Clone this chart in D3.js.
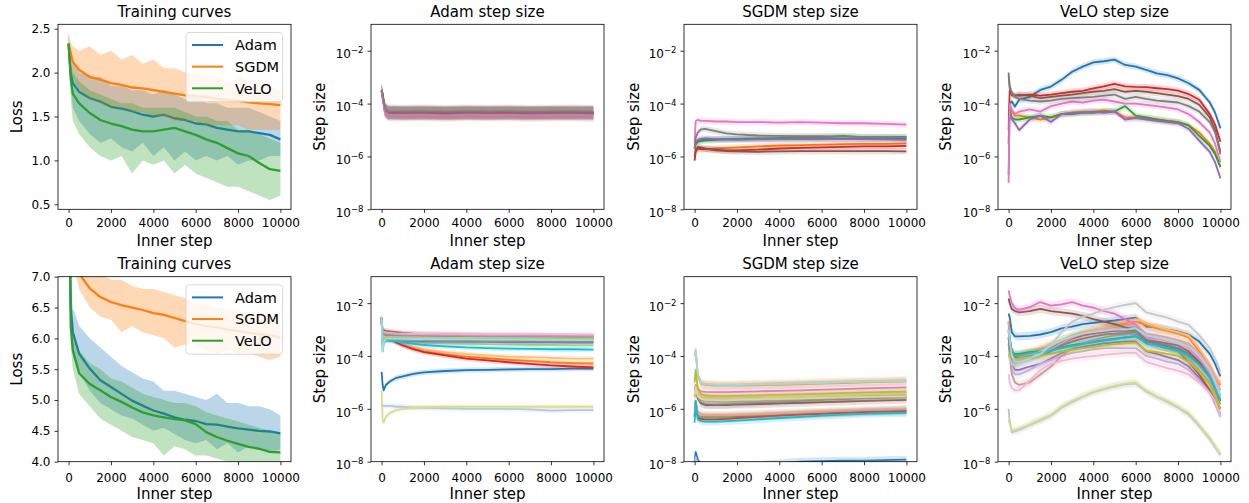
<!DOCTYPE html>
<html>
<head>
<meta charset="utf-8">
<script src="https://cdn.jsdelivr.net/npm/d3@7"></script>
<style>
  body { margin: 0; background: #fff; }
  text { font-family: "DejaVu Sans", sans-serif; fill: #000; }
</style>
</head>
<body>
<svg id="chart" width="1249" height="503"></svg>
<script>
// ---- data ----
const OPTIMIZERS = ["Adam", "SGDM", "VeLO"];
const X_TICKS = [0, 2000, 4000, 6000, 8000, 10000];
const LOSS1_TICKS = [0.5, 1.0, 1.5, 2.0, 2.5];
const LOSS2_TICKS = [4.0, 4.5, 5.0, 5.5, 6.0, 6.5, 7.0];
const LOG_TICKS = [1e-8, 1e-6, 1e-4, 1e-2];

const LOSS_STEPS = [0, 100, 200, 500, 1000, 1500, 2000, 2500, 3000, 3500, 4000, 4500, 5000, 5500, 6000, 6500, 7000, 7500, 8000, 8500, 9000, 9500, 10000];

// top row: training curves (smoothed line + raw noise envelope)
const LOSS1_ADAM    = [2.33, 1.99, 1.88, 1.78, 1.71, 1.67, 1.61, 1.59, 1.56, 1.52, 1.50, 1.52, 1.48, 1.46, 1.42, 1.41, 1.37, 1.35, 1.33, 1.33, 1.31, 1.29, 1.24];
const LOSS1_ADAM_LO = [2.25, 1.85, 1.6, 1.45, 1.3, 1.2, 1.25, 1.15, 1.1, 1.2, 1.05, 1.15, 1.0, 1.1, 1.0, 1.05, 1.0, 1.05, 0.95, 1.0, 1.0, 1.05, 1.05];
const LOSS1_ADAM_HI = [2.45, 2.15, 2.1, 2.0, 1.95, 1.95, 1.85, 1.85, 1.8, 1.8, 1.75, 1.8, 1.75, 1.7, 1.75, 1.65, 1.65, 1.6, 1.6, 1.6, 1.55, 1.5, 1.45];
const LOSS1_SGDM    = [2.33, 2.22, 2.12, 2.03, 1.95, 1.92, 1.88, 1.86, 1.83, 1.82, 1.80, 1.78, 1.76, 1.74, 1.73, 1.72, 1.70, 1.69, 1.68, 1.66, 1.65, 1.64, 1.63];
const LOSS1_SGDM_LO = [2.25, 2.05, 1.95, 1.8, 1.7, 1.65, 1.6, 1.6, 1.55, 1.55, 1.5, 1.5, 1.45, 1.45, 1.45, 1.4, 1.4, 1.4, 1.4, 1.35, 1.35, 1.35, 1.35];
const LOSS1_SGDM_HI = [2.45, 2.35, 2.3, 2.25, 2.3, 2.2, 2.25, 2.15, 2.2, 2.1, 2.15, 2.05, 2.05, 2.0, 2.0, 1.95, 1.95, 1.9, 1.95, 1.9, 1.85, 1.85, 1.8];
const LOSS1_VELO    = [2.33, 1.93, 1.76, 1.65, 1.54, 1.46, 1.42, 1.39, 1.35, 1.33, 1.33, 1.35, 1.37, 1.33, 1.29, 1.24, 1.20, 1.14, 1.08, 1.05, 0.97, 0.90, 0.88];
const LOSS1_VELO_LO = [2.25, 1.7, 1.45, 1.3, 1.15, 1.05, 1.0, 1.05, 0.85, 1.0, 0.95, 1.0, 0.85, 0.95, 0.85, 0.8, 0.75, 0.7, 0.7, 0.65, 0.6, 0.55, 0.6];
const LOSS1_VELO_HI = [2.45, 2.1, 2.0, 1.9, 1.8, 1.75, 1.7, 1.65, 1.65, 1.6, 1.6, 1.6, 1.6, 1.55, 1.5, 1.5, 1.45, 1.45, 1.35, 1.35, 1.3, 1.25, 1.2];

// bottom row: training curves
const LOSS2_ADAM    = [9.5, 6.5, 6.1, 5.75, 5.51, 5.32, 5.21, 5.10, 4.99, 4.91, 4.83, 4.78, 4.72, 4.68, 4.66, 4.61, 4.60, 4.57, 4.54, 4.52, 4.50, 4.49, 4.46];
const LOSS2_ADAM_LO = [9.0, 6.2, 5.7, 5.45, 5.15, 4.95, 4.85, 4.75, 4.7, 4.6, 4.5, 4.55, 4.45, 4.35, 4.3, 4.35, 4.2, 4.3, 4.15, 4.25, 4.2, 4.15, 4.2];
const LOSS2_ADAM_HI = [10, 6.9, 6.5, 6.2, 6.0, 5.85, 5.7, 5.55, 5.45, 5.35, 5.3, 5.15, 5.15, 5.1, 5.05, 5.0, 5.1, 4.95, 4.95, 4.9, 4.9, 4.85, 4.75];
const LOSS2_SGDM    = [9.5, 8.2, 7.6, 7.05, 6.81, 6.67, 6.59, 6.54, 6.50, 6.46, 6.41, 6.38, 6.33, 6.28, 6.23, 6.20, 6.18, 6.14, 6.12, 6.09, 6.07, 6.05, 6.01];
const LOSS2_SGDM_LO = [9.0, 7.8, 7.2, 6.8, 6.5, 6.35, 6.3, 6.1, 6.2, 6.1, 6.05, 6.0, 5.85, 5.9, 5.9, 5.8, 5.75, 5.8, 5.75, 5.75, 5.7, 5.65, 5.7];
const LOSS2_SGDM_HI = [10, 8.6, 8.0, 7.3, 7.1, 7.05, 6.95, 6.95, 6.85, 6.8, 6.8, 6.75, 6.7, 6.65, 6.55, 6.55, 6.5, 6.45, 6.45, 6.4, 6.35, 6.35, 6.3];
const LOSS2_VELO    = [9.5, 6.2, 5.81, 5.43, 5.26, 5.16, 5.05, 4.97, 4.88, 4.80, 4.75, 4.72, 4.69, 4.67, 4.61, 4.48, 4.40, 4.34, 4.29, 4.24, 4.21, 4.16, 4.15];
const LOSS2_VELO_LO = [9.0, 5.9, 5.5, 5.1, 4.9, 4.7, 4.6, 4.5, 4.4, 4.35, 4.3, 4.1, 4.25, 4.2, 4.1, 4.1, 4.05, 4.0, 3.95, 3.95, 3.9, 3.9, 3.95];
const LOSS2_VELO_HI = [10, 6.5, 6.1, 5.8, 5.6, 5.5, 5.35, 5.3, 5.2, 5.1, 5.05, 5.0, 4.95, 4.95, 4.9, 4.8, 4.75, 4.7, 4.65, 4.6, 4.55, 4.5, 4.45];

// top row step sizes, one row per parameter group (tab10 order)
const ADAM1_STEPS = [0, 50, 150, 300, 1000, 2000, 3000, 4000, 5000, 6000, 7000, 8000, 9000, 10000];
const ADAM1_SIZES = [
  [3e-4, 2e-4, 6e-5, 4.6e-5, 4.5e-5, 4.6e-5, 4.4e-5, 4.6e-5, 4.5e-5, 4.6e-5, 4.4e-5, 4.5e-5, 4.6e-5, 4.5e-5],
  [3e-4, 1.8e-4, 5.5e-5, 4.2e-5, 4.1e-5, 4.2e-5, 4.0e-5, 4.2e-5, 4.1e-5, 4.2e-5, 4.0e-5, 4.1e-5, 4.2e-5, 4.1e-5],
  [3e-4, 2e-4, 6e-5, 4.4e-5, 4.3e-5, 4.4e-5, 4.3e-5, 4.4e-5, 4.3e-5, 4.4e-5, 4.3e-5, 4.4e-5, 4.3e-5, 4.4e-5],
  [3.2e-4, 2.2e-4, 6.5e-5, 4.8e-5, 4.7e-5, 4.8e-5, 4.6e-5, 4.8e-5, 4.7e-5, 4.8e-5, 4.6e-5, 4.7e-5, 4.8e-5, 4.7e-5],
  [3e-4, 1.9e-4, 5.5e-5, 4.3e-5, 4.2e-5, 4.3e-5, 4.2e-5, 4.3e-5, 4.2e-5, 4.3e-5, 4.2e-5, 4.3e-5, 4.2e-5, 4.2e-5],
  [3.1e-4, 2.1e-4, 6e-5, 4.6e-5, 4.5e-5, 4.5e-5, 4.4e-5, 4.5e-5, 4.5e-5, 4.4e-5, 4.5e-5, 4.5e-5, 4.4e-5, 4.5e-5],
  [2.8e-4, 1.6e-4, 4.8e-5, 3.8e-5, 3.7e-5, 3.8e-5, 3.6e-5, 3.8e-5, 3.7e-5, 3.8e-5, 3.6e-5, 3.7e-5, 3.8e-5, 3.6e-5],
  [3.3e-4, 2.3e-4, 7e-5, 5.2e-5, 5.1e-5, 5.2e-5, 5.0e-5, 5.2e-5, 5.1e-5, 5.2e-5, 5.0e-5, 5.1e-5, 5.2e-5, 5.0e-5]
];
const ADAM1_SPREAD = 0.25;

const SGDM1_STEPS = [0, 50, 150, 300, 500, 1000, 1500, 2000, 3000, 4000, 5000, 6000, 7000, 8000, 9000, 10000];
const SGDM1_SIZES = [
  [2e-6, 3e-6, 3.8e-6, 4.2e-6, 4.5e-6, 4.4e-6, 4.5e-6, 4.6e-6, 4.5e-6, 4.6e-6, 4.7e-6, 4.6e-6, 4.7e-6, 4.6e-6, 4.7e-6, 4.6e-6],
  [1e-6, 1.6e-6, 2e-6, 1.9e-6, 1.9e-6, 2e-6, 2.1e-6, 2.2e-6, 2.4e-6, 2.6e-6, 2.7e-6, 2.8e-6, 2.9e-6, 3e-6, 3e-6, 3.1e-6],
  [2e-6, 3e-6, 3.6e-6, 3.8e-6, 4e-6, 4.2e-6, 4.4e-6, 4.6e-6, 4.8e-6, 5e-6, 5e-6, 5.2e-6, 6e-6, 5.3e-6, 5.4e-6, 5.5e-6],
  [7e-7, 1.5e-6, 2e-6, 1.9e-6, 1.9e-6, 1.8e-6, 1.7e-6, 1.7e-6, 1.8e-6, 2e-6, 2.1e-6, 2.2e-6, 2.3e-6, 2.4e-6, 2.4e-6, 2.5e-6],
  [2e-6, 3.5e-6, 4.2e-6, 4.6e-6, 4.8e-6, 4.5e-6, 4.3e-6, 4.2e-6, 4.4e-6, 4.5e-6, 4.5e-6, 4.6e-6, 4.5e-6, 4.5e-6, 4.4e-6, 4.2e-6],
  [1e-6, 1.8e-6, 2.3e-6, 2.2e-6, 2e-6, 1.7e-6, 1.6e-6, 1.55e-6, 1.5e-6, 1.55e-6, 1.6e-6, 1.6e-6, 1.6e-6, 1.6e-6, 1.6e-6, 1.55e-6],
  [3e-6, 2.2e-5, 2.4e-5, 2.2e-5, 2.2e-5, 2.1e-5, 2.1e-5, 2e-5, 2e-5, 1.9e-5, 2e-5, 1.9e-5, 1.8e-5, 1.8e-5, 1.7e-5, 1.6e-5],
  [2e-6, 5e-6, 8e-6, 1.05e-5, 1.1e-5, 9e-6, 7.5e-6, 6.8e-6, 6.2e-6, 6e-6, 5.8e-6, 5.8e-6, 5.6e-6, 5.5e-6, 5.4e-6, 5.3e-6]
];
const SGDM1_SPREAD = 0.12;

const VELO_STEPS = [0, 50, 150, 300, 500, 1000, 1500, 2000, 2500, 3000, 3500, 4000, 4500, 5000, 5500, 6000, 6500, 7000, 7500, 8000, 8500, 9000, 9500, 9750, 10000];
const VELO1_SIZES = [
  [3e-6, 1e-4, 1.2e-4, 7.8e-5, 1.4e-4, 1.8e-4, 3.3e-4, 4.4e-4, 7.9e-4, 1.6e-3, 2.5e-3, 3.6e-3, 4e-3, 4.6e-3, 2.9e-3, 2.5e-3, 1.9e-3, 1.4e-3, 1.2e-3, 9e-4, 5.9e-4, 3.3e-4, 1.1e-4, 4.5e-5, 1.15e-5],
  [3e-5, 8e-5, 5e-5, 3.5e-5, 3.5e-5, 3e-5, 2.5e-5, 3e-5, 4e-5, 4.5e-5, 5e-5, 5e-5, 5.5e-5, 5e-5, 3e-5, 3e-5, 2.8e-5, 2.5e-5, 2.2e-5, 2e-5, 1.5e-5, 8e-6, 3e-6, 1.5e-6, 4e-7],
  [5e-5, 6e-5, 3e-5, 2.5e-5, 2.5e-5, 3e-5, 3.5e-5, 3e-5, 4e-5, 4e-5, 4.5e-5, 4.5e-5, 5e-5, 5e-5, 8e-5, 3.5e-5, 3e-5, 2.5e-5, 2.2e-5, 2e-5, 1.5e-5, 6e-6, 2.5e-6, 1.2e-6, 4e-7],
  [1e-5, 3e-4, 2.5e-4, 2e-4, 2e-4, 2.2e-4, 2e-4, 2.2e-4, 2.5e-4, 2.8e-4, 3e-4, 3.8e-4, 4.5e-4, 5.6e-4, 4.5e-4, 4.3e-4, 4.2e-4, 3.8e-4, 3.5e-4, 3.1e-4, 2.3e-4, 1.4e-4, 4e-5, 1.6e-5, 3.6e-6],
  [2e-7, 5e-5, 2.5e-5, 1.8e-5, 1e-5, 2.5e-5, 3.5e-5, 2e-5, 4e-5, 4.5e-5, 4.5e-5, 5e-5, 4.5e-5, 5e-5, 2.5e-5, 2.8e-5, 2.5e-5, 2.2e-5, 2e-5, 1.8e-5, 1.1e-5, 4e-6, 1.5e-6, 6e-7, 1.5e-7],
  [1.2e-3, 4e-4, 2e-4, 2e-4, 2.2e-4, 2e-4, 1.6e-4, 1.8e-4, 2e-4, 2.2e-4, 2.5e-4, 2.8e-4, 3e-4, 3.5e-4, 2.8e-4, 3e-4, 2.8e-4, 2.5e-4, 2.2e-4, 1.9e-4, 1.5e-4, 9e-5, 3e-5, 1e-5, 1.5e-6],
  [1e-7, 1e-4, 6e-5, 4e-5, 5e-5, 6e-5, 5e-5, 8e-5, 1e-4, 1.2e-4, 1.1e-4, 1.3e-4, 1.4e-4, 1.2e-4, 1e-4, 1e-4, 9e-5, 8e-5, 7e-5, 6e-5, 4e-5, 2e-5, 8e-6, 3e-6, 6e-7],
  [1.5e-3, 5e-4, 2.5e-4, 1.8e-4, 1.5e-4, 1.3e-4, 1.2e-4, 1.3e-4, 1.5e-4, 1.6e-4, 1.7e-4, 1.8e-4, 2e-4, 2.2e-4, 1.5e-4, 1.8e-4, 1.5e-4, 1.3e-4, 1.2e-4, 1.1e-4, 8e-5, 5e-5, 2e-5, 8e-6, 1.2e-6]
];
const VELO1_SPREAD = 0.12;

// bottom row step sizes (tab20 order)
const ADAM2_STEPS = [0, 50, 100, 200, 400, 700, 1000, 1500, 2000, 3000, 4000, 5000, 6000, 7000, 8000, 9000, 10000];
const ADAM2_SIZES = [
  [2.5e-5, 8e-6, 5e-6, 8e-6, 1.1e-5, 1.5e-5, 1.7e-5, 2.1e-5, 2.4e-5, 2.7e-5, 2.9e-5, 3e-5, 3.1e-5, 3.2e-5, 3.2e-5, 3.3e-5, 3.3e-5],
  [1.5e-6, 1.3e-6, 1.3e-6, 1.3e-6, 1.3e-6, 1.2e-6, 1.2e-6, 1.1e-6, 1.1e-6, 1.05e-6, 1e-6, 1e-6, 1e-6, 9.5e-7, 8.5e-7, 9e-7, 9e-7],
  [2e-3, 5e-4, 5.5e-4, 5.5e-4, 4.8e-4, 3.4e-4, 2.6e-4, 1.9e-4, 1.5e-4, 1.15e-4, 9.5e-5, 8.2e-5, 7.2e-5, 6.5e-5, 5.8e-5, 5.4e-5, 5.2e-5],
  [2e-3, 6e-4, 6e-4, 6e-4, 5.5e-4, 4e-4, 3e-4, 2.2e-4, 1.8e-4, 1.4e-4, 1.2e-4, 1.05e-4, 9.5e-5, 9e-5, 8.5e-5, 8e-5, 8e-5],
  [3e-3, 3e-4, 4e-4, 4.5e-4, 4.4e-4, 4.3e-4, 4.2e-4, 4.1e-4, 4e-4, 3.9e-4, 3.8e-4, 3.7e-4, 3.7e-4, 3.6e-4, 3.6e-4, 3.5e-4, 3.5e-4],
  [3e-3, 3e-4, 4e-4, 4.5e-4, 4.2e-4, 3.8e-4, 3.5e-4, 3.3e-4, 3.1e-4, 3e-4, 2.9e-4, 2.8e-4, 2.7e-4, 2.6e-4, 2.6e-4, 2.5e-4, 2.5e-4],
  [2e-3, 5e-4, 5e-4, 5e-4, 4.5e-4, 3.2e-4, 2.5e-4, 1.8e-4, 1.4e-4, 1.05e-4, 8e-5, 6.8e-5, 5.8e-5, 5e-5, 4.4e-5, 4e-5, 3.7e-5],
  [2e-3, 5e-4, 6e-4, 6.5e-4, 6e-4, 5.8e-4, 5.6e-4, 5.5e-4, 5.4e-4, 5.3e-4, 5.2e-4, 5.2e-4, 5.1e-4, 5.1e-4, 5e-4, 5e-4, 5e-4],
  [3e-3, 3e-4, 3.5e-4, 4e-4, 3.8e-4, 3.7e-4, 3.6e-4, 3.6e-4, 3.5e-4, 3.5e-4, 3.4e-4, 3.4e-4, 3.3e-4, 3.3e-4, 3.3e-4, 3.2e-4, 3.2e-4],
  [3e-3, 4e-4, 5e-4, 5.5e-4, 5.2e-4, 5e-4, 5e-4, 4.9e-4, 4.9e-4, 4.8e-4, 4.8e-4, 4.7e-4, 4.7e-4, 4.7e-4, 4.6e-4, 4.6e-4, 4.6e-4],
  [3e-3, 8e-4, 9.5e-4, 9e-4, 8.5e-4, 8e-4, 7.5e-4, 7e-4, 6.8e-4, 6.5e-4, 6.3e-4, 6.2e-4, 6e-4, 6e-4, 5.8e-4, 5.8e-4, 5.7e-4],
  [3e-3, 6e-4, 7e-4, 7e-4, 6.8e-4, 6.5e-4, 6.3e-4, 6.2e-4, 6e-4, 6e-4, 5.9e-4, 5.8e-4, 5.7e-4, 5.6e-4, 5.5e-4, 5.5e-4, 5.4e-4],
  [3e-3, 6e-4, 7e-4, 7e-4, 6.8e-4, 6.6e-4, 6.5e-4, 6.4e-4, 6.3e-4, 6.2e-4, 6.1e-4, 6e-4, 6e-4, 6e-4, 5.9e-4, 5.9e-4, 5.8e-4],
  [3e-3, 7e-4, 8e-4, 7.5e-4, 7.2e-4, 7e-4, 6.9e-4, 6.8e-4, 6.8e-4, 6.7e-4, 6.6e-4, 6.5e-4, 6.5e-4, 6.4e-4, 6.4e-4, 6.3e-4, 6.3e-4],
  [3e-3, 6e-4, 6.5e-4, 6.2e-4, 6e-4, 5.8e-4, 5.6e-4, 5.5e-4, 5.4e-4, 5.3e-4, 5.2e-4, 5.1e-4, 5e-4, 5e-4, 4.9e-4, 4.9e-4, 4.8e-4],
  [3e-3, 5e-4, 5.5e-4, 5.3e-4, 5.2e-4, 5.1e-4, 5e-4, 5e-4, 4.9e-4, 4.8e-4, 4.8e-4, 4.7e-4, 4.7e-4, 4.6e-4, 4.6e-4, 4.5e-4, 4.5e-4],
  [3e-3, 3e-4, 4e-4, 5e-4, 5e-4, 4.8e-4, 4.7e-4, 4.6e-4, 4.6e-4, 4.5e-4, 4.5e-4, 4.4e-4, 4.4e-4, 4.4e-4, 4.3e-4, 4.3e-4, 4.3e-4],
  [5e-6, 4e-7, 3e-7, 5e-7, 7e-7, 9e-7, 1e-6, 1.1e-6, 1.15e-6, 1.2e-6, 1.2e-6, 1.2e-6, 1.2e-6, 1.2e-6, 1.2e-6, 1.2e-6, 1.2e-6],
  [3e-3, 1.5e-4, 3e-4, 3.8e-4, 3.8e-4, 3.6e-4, 3.3e-4, 2.9e-4, 2.6e-4, 2.3e-4, 2.1e-4, 2e-4, 1.9e-4, 1.85e-4, 1.8e-4, 1.8e-4, 1.75e-4],
  [3e-3, 1.5e-4, 3e-4, 4.5e-4, 4.6e-4, 4.5e-4, 4.5e-4, 4.4e-4, 4.4e-4, 4.3e-4, 4.3e-4, 4.2e-4, 4.2e-4, 4.2e-4, 4.1e-4, 4.1e-4, 4e-4]
];
const ADAM2_SPREAD = 0.1;

const SGDM2_STEPS = [0, 50, 150, 300, 500, 1000, 1500, 2000, 3000, 4000, 5000, 6000, 7000, 8000, 9000, 10000];
const SGDM2_SIZES = [
  [1e-8, 2.3e-8, 1.2e-8, 7e-9, 6e-9, 6e-9, 6.5e-9, 7e-9, 7.5e-9, 8.5e-9, 1e-8, 1.05e-8, 1.1e-8, 1.1e-8, 1.15e-8, 1.2e-8],
  [8e-9, 1.5e-8, 8e-9, 5e-9, 5e-9, 5e-9, 5e-9, 5e-9, 5.5e-9, 6e-9, 6.5e-9, 7e-9, 7.5e-9, 8e-9, 8e-9, 8.5e-9],
  [1e-4, 1.5e-4, 1.8e-5, 9e-6, 8e-6, 7.5e-6, 7.5e-6, 7.5e-6, 7.8e-6, 8e-6, 8.5e-6, 9e-6, 9.5e-6, 1e-5, 1.05e-5, 1.1e-5],
  [1.2e-4, 1.7e-4, 2e-5, 1e-5, 9e-6, 8.5e-6, 8.5e-6, 8.5e-6, 9e-6, 9.5e-6, 1e-5, 1.05e-5, 1.1e-5, 1.15e-5, 1.2e-5, 1.25e-5],
  [5e-7, 2e-6, 6e-7, 5e-7, 5e-7, 5e-7, 5e-7, 5.2e-7, 5.5e-7, 6e-7, 6.5e-7, 7e-7, 7.5e-7, 8e-7, 8.5e-7, 9e-7],
  [6e-7, 2e-6, 6.5e-7, 5.5e-7, 5.5e-7, 5.5e-7, 5.5e-7, 5.8e-7, 6e-7, 6.5e-7, 7e-7, 7.5e-7, 8e-7, 8.5e-7, 9e-7, 9.5e-7],
  [5e-7, 1.5e-6, 4.5e-7, 4.2e-7, 4e-7, 4e-7, 4.2e-7, 4.5e-7, 5e-7, 5.5e-7, 6e-7, 6.5e-7, 7e-7, 7.5e-7, 7.8e-7, 8e-7],
  [8e-7, 2e-6, 8e-7, 6.5e-7, 6e-7, 6e-7, 6e-7, 6.2e-7, 6.5e-7, 7e-7, 7.5e-7, 8e-7, 8.5e-7, 9e-7, 9.5e-7, 1e-6],
  [3e-6, 5e-6, 3e-6, 2.2e-6, 2e-6, 1.9e-6, 1.9e-6, 1.9e-6, 2e-6, 2.1e-6, 2.2e-6, 2.3e-6, 2.4e-6, 2.5e-6, 2.6e-6, 2.7e-6],
  [3e-6, 5e-6, 3e-6, 2.4e-6, 2.2e-6, 2.1e-6, 2.1e-6, 2.1e-6, 2.2e-6, 2.3e-6, 2.4e-6, 2.5e-6, 2.6e-6, 2.7e-6, 2.8e-6, 2.9e-6],
  [3e-6, 5e-6, 2.5e-6, 1.6e-6, 1.4e-6, 1.4e-6, 1.4e-6, 1.45e-6, 1.5e-6, 1.6e-6, 1.7e-6, 1.8e-6, 1.9e-6, 2e-6, 2.1e-6, 2.2e-6],
  [3e-6, 6e-6, 3.5e-6, 2.8e-6, 2.6e-6, 2.5e-6, 2.5e-6, 2.5e-6, 2.6e-6, 2.7e-6, 2.8e-6, 3e-6, 3.1e-6, 3.2e-6, 3.3e-6, 3.4e-6],
  [5e-6, 8e-6, 5.5e-6, 4.6e-6, 4.4e-6, 4.3e-6, 4.3e-6, 4.4e-6, 4.6e-6, 4.8e-6, 5e-6, 5.3e-6, 5.6e-6, 5.9e-6, 6.2e-6, 6.5e-6],
  [4e-6, 7e-6, 4e-6, 3.2e-6, 3e-6, 3e-6, 3e-6, 3e-6, 3.1e-6, 3.2e-6, 3.4e-6, 3.6e-6, 3.8e-6, 4e-6, 4.1e-6, 4.2e-6],
  [5e-6, 5e-6, 3e-6, 1.8e-6, 1.5e-6, 1.45e-6, 1.5e-6, 1.55e-6, 1.7e-6, 1.85e-6, 2e-6, 2.2e-6, 2.4e-6, 2.6e-6, 2.8e-6, 3e-6],
  [5e-6, 6e-6, 3.5e-6, 2.6e-6, 2.4e-6, 2.3e-6, 2.3e-6, 2.4e-6, 2.5e-6, 2.7e-6, 2.9e-6, 3.1e-6, 3.3e-6, 3.5e-6, 3.7e-6, 3.9e-6],
  [1e-5, 3e-5, 6e-6, 3.5e-6, 3.2e-6, 3e-6, 3e-6, 3.1e-6, 3.2e-6, 3.4e-6, 3.5e-6, 3.7e-6, 3.9e-6, 4.1e-6, 4.3e-6, 4.5e-6],
  [3e-6, 6e-6, 3e-6, 2.4e-6, 2.2e-6, 2.1e-6, 2.1e-6, 2.2e-6, 2.3e-6, 2.4e-6, 2.5e-6, 2.6e-6, 2.7e-6, 2.8e-6, 2.9e-6, 3e-6],
  [3e-7, 2e-6, 4e-7, 3.5e-7, 3.3e-7, 3.3e-7, 3.4e-7, 3.6e-7, 4e-7, 4.5e-7, 5e-7, 5.5e-7, 6e-7, 6.5e-7, 6.8e-7, 7e-7],
  [1e-4, 1.7e-4, 2e-5, 9.5e-6, 8.5e-6, 8e-6, 8e-6, 8e-6, 8.3e-6, 8.7e-6, 9e-6, 9.5e-6, 1e-5, 1.05e-5, 1.1e-5, 1.15e-5]
];
const SGDM2_SPREAD = 0.15;

const VELO2_SIZES = [
  [4e-3, 3e-3, 8e-4, 5.5e-4, 5.5e-4, 5.8e-4, 6.5e-4, 8e-4, 1.1e-3, 1.3e-3, 1.6e-3, 1.8e-3, 2e-3, 2.2e-3, 2.5e-3, 2.8e-3, 1.3e-3, 1.2e-3, 1e-3, 8.5e-4, 6.5e-4, 3.5e-4, 1.2e-4, 5e-5, 1.7e-5],
  [1e-6, 3e-7, 1.3e-7, 1.4e-7, 1.6e-7, 2.4e-7, 3.6e-7, 5.5e-7, 1.1e-6, 1.8e-6, 2.8e-6, 4.2e-6, 5.5e-6, 7e-6, 8.5e-6, 9e-6, 4.5e-6, 2.8e-6, 1.8e-6, 1.1e-6, 6e-7, 2.2e-7, 7e-8, 3.5e-8, 1.8e-8],
  [1e-3, 3e-4, 1.1e-4, 9e-5, 1e-4, 1.3e-4, 1.8e-4, 2.6e-4, 3.5e-4, 5e-4, 7e-4, 9e-4, 1.1e-3, 1.4e-3, 1.7e-3, 2e-3, 1.5e-3, 1.1e-3, 9e-4, 7e-4, 5e-4, 1.5e-4, 4e-5, 1.5e-5, 8e-6],
  [1e-3, 3e-4, 1.2e-4, 1e-4, 1.2e-4, 1.5e-4, 2e-4, 3e-4, 4e-4, 6e-4, 8e-4, 1e-3, 1.3e-3, 1.6e-3, 2e-3, 2.5e-3, 1.8e-3, 1.3e-3, 1e-3, 8e-4, 6e-4, 2e-4, 5e-5, 2e-5, 1e-5],
  [8e-4, 4e-4, 1.5e-4, 1.2e-4, 1.2e-4, 1.4e-4, 1.5e-4, 1.7e-4, 2.1e-4, 2.6e-4, 3e-4, 3.5e-4, 4e-4, 4.5e-4, 5e-4, 5.5e-4, 3.2e-4, 2.7e-4, 2.2e-4, 1.8e-4, 1.2e-4, 5e-5, 1.8e-5, 8e-6, 3e-6],
  [8e-4, 3e-4, 8e-5, 5e-5, 6e-5, 8e-5, 1.2e-4, 2e-4, 4e-4, 6e-4, 8e-4, 9e-4, 1e-3, 1.2e-3, 1.2e-3, 1.3e-3, 7e-4, 6e-4, 5e-4, 4e-4, 2.5e-4, 8e-5, 2.5e-5, 1e-5, 3e-6],
  [2e-3, 5e-4, 1.5e-4, 9e-5, 8e-5, 1e-4, 1.2e-4, 2e-4, 3e-4, 4.5e-4, 6e-4, 7e-4, 8e-4, 9e-4, 9e-4, 9e-4, 4e-4, 3.5e-4, 3e-4, 2.5e-4, 1.5e-4, 6e-5, 2e-5, 8e-6, 3e-6],
  [2e-3, 5e-4, 1.2e-4, 7e-5, 7e-5, 9e-5, 1.1e-4, 1.8e-4, 3e-4, 5e-4, 7e-4, 9e-4, 1.1e-3, 1.3e-3, 1.5e-3, 1.6e-3, 7e-4, 6e-4, 5e-4, 4e-4, 3e-4, 1.2e-4, 4e-5, 1.5e-5, 5e-6],
  [5e-4, 2e-4, 5e-5, 3e-5, 3e-5, 4e-5, 5e-5, 8e-5, 1.3e-4, 1.8e-4, 2.2e-4, 2.6e-4, 3e-4, 3.3e-4, 3.5e-4, 3.6e-4, 1.5e-4, 1.2e-4, 9e-5, 7e-5, 4e-5, 1.5e-5, 5e-6, 2e-6, 6e-7],
  [5e-4, 1.5e-4, 3e-5, 2e-5, 2e-5, 3e-5, 5e-5, 7e-5, 1e-4, 1.3e-4, 1.5e-4, 1.8e-4, 2e-4, 2e-4, 2e-4, 2e-4, 1e-4, 8e-5, 6e-5, 5e-5, 3e-5, 1.2e-5, 4e-6, 1.5e-6, 5e-7],
  [1.5e-2, 1e-2, 6e-3, 5e-3, 4.5e-3, 5e-3, 6e-3, 5e-3, 4.5e-3, 4e-3, 3.3e-3, 2.5e-3, 2e-3, 1.6e-3, 1.2e-3, 1e-3, 4e-4, 2.5e-4, 2e-4, 1.5e-4, 6e-5, 2e-5, 5e-6, 2e-6, 1e-6],
  [3e-4, 1e-4, 2e-5, 1e-5, 8e-6, 1e-5, 2e-5, 4e-5, 1e-4, 2e-4, 3e-4, 4e-4, 5e-4, 6e-4, 6.5e-4, 7e-4, 3e-4, 2.5e-4, 2e-4, 1.5e-4, 8e-5, 3e-5, 1e-5, 4e-6, 1.5e-6],
  [3e-2, 2e-2, 1e-2, 6.5e-3, 5.5e-3, 7e-3, 1.1e-2, 8e-3, 9e-3, 1.1e-2, 8e-3, 6.8e-3, 5e-3, 4e-3, 2.5e-3, 1.5e-3, 5e-4, 4.5e-4, 3.8e-4, 3e-4, 2e-4, 8e-5, 2e-5, 8e-6, 2e-6],
  [2e-5, 1e-5, 6e-6, 5e-6, 5e-6, 1.2e-5, 3e-5, 5e-5, 6.5e-5, 8e-5, 9e-5, 1e-4, 1.1e-4, 1.2e-4, 1.3e-4, 1.3e-4, 6e-5, 4.5e-5, 3.5e-5, 2.8e-5, 2e-5, 1e-5, 4e-6, 2e-6, 6e-7],
  [5e-4, 2e-4, 8e-5, 6e-5, 6e-5, 8e-5, 1e-4, 1.5e-4, 2.5e-4, 3.5e-4, 4.5e-4, 5.5e-4, 6.5e-4, 7e-4, 7.5e-4, 8e-4, 3.5e-4, 3e-4, 2.5e-4, 2e-4, 1.2e-4, 5e-5, 1.5e-5, 6e-6, 2e-6],
  [1e-4, 8e-5, 5e-5, 4e-5, 5e-5, 8e-5, 1.5e-4, 2.5e-4, 8e-4, 2e-3, 3e-3, 4e-3, 5.5e-3, 7e-3, 8.5e-3, 1e-2, 4.5e-3, 3.5e-3, 2.8e-3, 2e-3, 1.5e-3, 6e-4, 2e-4, 8e-5, 2.5e-5],
  [1e-4, 1.2e-4, 9e-5, 8e-5, 8e-5, 9e-5, 1e-4, 1.2e-4, 1.5e-4, 1.7e-4, 2e-4, 2.2e-4, 2.5e-4, 2.8e-4, 3e-4, 3.2e-4, 1.6e-4, 1.4e-4, 1.2e-4, 1e-4, 6e-5, 2.5e-5, 8e-6, 3e-6, 1e-6],
  [3e-7, 4e-7, 1.5e-7, 1.6e-7, 1.8e-7, 2.6e-7, 4e-7, 6e-7, 1.2e-6, 2e-6, 3e-6, 4.5e-6, 6e-6, 7.5e-6, 9e-6, 1e-5, 5e-6, 3e-6, 2e-6, 1.2e-6, 7e-7, 2.5e-7, 8e-8, 4e-8, 2e-8],
  [1e-3, 5e-4, 1.5e-4, 1.1e-4, 1.1e-4, 1.3e-4, 1.4e-4, 1.6e-4, 2e-4, 2.4e-4, 2.8e-4, 3.3e-4, 3.8e-4, 4.3e-4, 5e-4, 5.8e-4, 3e-4, 2.5e-4, 2e-4, 1.6e-4, 1e-4, 4.5e-5, 1.5e-5, 6e-6, 2.2e-6],
  [1e-3, 4e-4, 1e-4, 6e-5, 6e-5, 8e-5, 1.2e-4, 2.5e-4, 4e-4, 5.5e-4, 7e-4, 8e-4, 9e-4, 1e-3, 1e-3, 1.1e-3, 6e-4, 5e-4, 4e-4, 3e-4, 2.2e-4, 1e-4, 3e-5, 1e-5, 3e-6]
];
const VELO2_SPREAD = 0.15;

// ---- styling ----
const TAB10 = ["#1f77b4", "#ff7f0e", "#2ca02c", "#d62728", "#9467bd", "#8c564b", "#e377c2", "#7f7f7f", "#bcbd22", "#17becf"];
const TAB20 = ["#1f77b4", "#aec7e8", "#ff7f0e", "#ffbb78", "#2ca02c", "#98df8a", "#d62728", "#ff9896", "#9467bd", "#c5b0d5",
               "#8c564b", "#c49c94", "#e377c2", "#f7b6d2", "#7f7f7f", "#c7c7c7", "#bcbd22", "#dbdb8d", "#17becf", "#9edae5"];
const OPT_COLORS = [TAB10[0], TAB10[1], TAB10[2]];

const W = 233, H = 185;
const COL_X = [58, 371, 684, 998];
const ROW_Y = [24.3, 276.7];
const X_TICK_PAD = [5.5, 8.5];
const X_LABEL_Y = [36.5, 37];
const YLABEL_OFF = [41, 51, 50, 52];

const svg = d3.select("#chart");
const x = d3.scaleLinear().domain([-500, 10500]).range([0, W]);
const yLog = d3.scaleLog().domain([1e-8, 1e-1]).range([H, 0]);

function makePanel(row, col, title, ylabel) {
  const g = svg.append("g").attr("transform", `translate(${COL_X[col]},${ROW_Y[row]})`);
  const id = `clip-${row}-${col}`;
  g.append("clipPath").attr("id", id).append("rect").attr("width", W).attr("height", H);
  const plot = g.append("g").attr("clip-path", `url(#${id})`);

  g.append("text").attr("x", W / 2).attr("y", -7.5).attr("text-anchor", "middle")
    .style("font-size", "15px").text(title);
  g.append("text").attr("x", W / 2).attr("y", H + X_LABEL_Y[row]).attr("text-anchor", "middle")
    .style("font-size", "15px").text("Inner step");
  g.append("text").attr("transform", `translate(${-YLABEL_OFF[col]},${H / 2}) rotate(-90)`)
    .attr("text-anchor", "middle").attr("dy", "0.36em").style("font-size", "15px").text(ylabel);
  return { g, plot };
}

function drawAxes(g, row, y, yTicks, isLog) {
  const xa = g.append("g").attr("transform", `translate(0,${H})`)
    .call(d3.axisBottom(x).tickValues(X_TICKS).tickSize(3.5).tickPadding(X_TICK_PAD[row]).tickFormat(d3.format("d")));
  const ya = g.append("g")
    .call(d3.axisLeft(y).tickValues(yTicks).tickSize(3.5).tickPadding(4).tickFormat(isLog ? () => "" : d3.format(".1f")));
  [xa, ya].forEach((a) => {
    a.select(".domain").remove();
    a.attr("font-family", null).attr("font-size", null);
    a.selectAll("line").attr("stroke", "#000").attr("stroke-width", 0.8);
    a.selectAll("text").attr("fill", "#000").style("font-size", "12px");
  });
  if (isLog) {
    ya.selectAll(".tick text").each(function (d) {
      const t = d3.select(this).text(null).attr("dy", "0.6em");
      t.append("tspan").text("10");
      t.append("tspan").attr("dy", "-0.62em").style("font-size", "8.5px")
        .text("\u2212" + Math.round(-Math.log10(d)));
    });
  }
  g.append("rect").attr("width", W).attr("height", H)
    .attr("fill", "none").attr("stroke", "#000").attr("stroke-width", 0.8);
}

function drawLoss(plot, y, series) {
  const area = d3.area().x((d) => x(d[0])).y0((d) => y(d[1])).y1((d) => y(d[2]));
  const line = d3.line().x((d) => x(d[0])).y((d) => y(d[1]));
  series.forEach((s) => {
    plot.append("path")
      .datum(LOSS_STEPS.map((t, i) => [t, s.lo[i], s.hi[i]]))
      .attr("fill", s.color).attr("opacity", 0.3).attr("d", area);
    plot.append("path")
      .datum(LOSS_STEPS.map((t, i) => [t, s.mean[i]]))
      .attr("fill", "none").attr("stroke", s.color).attr("stroke-width", 2.3)
      .attr("stroke-linejoin", "round").attr("d", line);
  });
}

function drawSizes(plot, steps, sizes, colors, spread) {
  const f = Math.pow(10, spread);
  const area = d3.area().x((d) => x(d[0])).y0((d) => yLog(d[1] / f)).y1((d) => yLog(d[1] * f));
  const line = d3.line().x((d) => x(d[0])).y((d) => yLog(d[1]));
  sizes.forEach((vals, i) => {
    const pts = steps.map((t, j) => [t, vals[j]]);
    plot.append("path").datum(pts).attr("fill", colors[i]).attr("opacity", 0.18).attr("d", area);
    plot.append("path").datum(pts).attr("fill", "none").attr("stroke", colors[i])
      .attr("stroke-width", 1.8).attr("stroke-linejoin", "round").attr("d", line);
  });
}

function drawLegend(g) {
  const lg = g.append("g").attr("transform", "translate(128,8.2)");
  lg.append("rect").attr("width", 96.5).attr("height", 69.3).attr("rx", 3)
    .attr("fill", "#fff").attr("fill-opacity", 0.8).attr("stroke", "#d0d0d0").attr("stroke-width", 0.8);
  OPTIMIZERS.forEach((name, i) => {
    const yy = 12.5 + i * 21.65;
    lg.append("line").attr("x1", 6).attr("x2", 37).attr("y1", yy).attr("y2", yy)
      .attr("stroke", OPT_COLORS[i]).attr("stroke-width", 2);
    lg.append("text").attr("x", 49).attr("y", yy).attr("dy", "0.36em")
      .style("font-size", "14.5px").text(name);
  });
}

// ---- top row ----
{
  const y = d3.scaleLinear().domain([0.443, 2.55]).range([H, 0]);
  const p = makePanel(0, 0, "Training curves", "Loss");
  drawLoss(p.plot, y, [
    { mean: LOSS1_ADAM, lo: LOSS1_ADAM_LO, hi: LOSS1_ADAM_HI, color: OPT_COLORS[0] },
    { mean: LOSS1_SGDM, lo: LOSS1_SGDM_LO, hi: LOSS1_SGDM_HI, color: OPT_COLORS[1] },
    { mean: LOSS1_VELO, lo: LOSS1_VELO_LO, hi: LOSS1_VELO_HI, color: OPT_COLORS[2] }
  ]);
  drawAxes(p.g, 0, y, LOSS1_TICKS, false);
  drawLegend(p.g);
}
{
  const p = makePanel(0, 1, "Adam step size", "Step size");
  drawSizes(p.plot, ADAM1_STEPS, ADAM1_SIZES, TAB10, ADAM1_SPREAD);
  drawAxes(p.g, 0, yLog, LOG_TICKS, true);
}
{
  const p = makePanel(0, 2, "SGDM step size", "Step size");
  drawSizes(p.plot, SGDM1_STEPS, SGDM1_SIZES, TAB10, SGDM1_SPREAD);
  drawAxes(p.g, 0, yLog, LOG_TICKS, true);
}
{
  const p = makePanel(0, 3, "VeLO step size", "Step size");
  drawSizes(p.plot, VELO_STEPS, VELO1_SIZES, TAB10, VELO1_SPREAD);
  drawAxes(p.g, 0, yLog, LOG_TICKS, true);
}

// ---- bottom row ----
{
  const y = d3.scaleLinear().domain([4.0, 7.0]).range([H, 0]);
  const p = makePanel(1, 0, "Training curves", "Loss");
  drawLoss(p.plot, y, [
    { mean: LOSS2_ADAM, lo: LOSS2_ADAM_LO, hi: LOSS2_ADAM_HI, color: OPT_COLORS[0] },
    { mean: LOSS2_SGDM, lo: LOSS2_SGDM_LO, hi: LOSS2_SGDM_HI, color: OPT_COLORS[1] },
    { mean: LOSS2_VELO, lo: LOSS2_VELO_LO, hi: LOSS2_VELO_HI, color: OPT_COLORS[2] }
  ]);
  drawAxes(p.g, 1, y, LOSS2_TICKS, false);
  drawLegend(p.g);
}
{
  const p = makePanel(1, 1, "Adam step size", "Step size");
  drawSizes(p.plot, ADAM2_STEPS, ADAM2_SIZES, TAB20, ADAM2_SPREAD);
  drawAxes(p.g, 1, yLog, LOG_TICKS, true);
}
{
  const p = makePanel(1, 2, "SGDM step size", "Step size");
  drawSizes(p.plot, SGDM2_STEPS, SGDM2_SIZES, TAB20, SGDM2_SPREAD);
  drawAxes(p.g, 1, yLog, LOG_TICKS, true);
}
{
  const p = makePanel(1, 3, "VeLO step size", "Step size");
  drawSizes(p.plot, VELO_STEPS, VELO2_SIZES, TAB20, VELO2_SPREAD);
  drawAxes(p.g, 1, yLog, LOG_TICKS, true);
}
</script>
</body>
</html>
